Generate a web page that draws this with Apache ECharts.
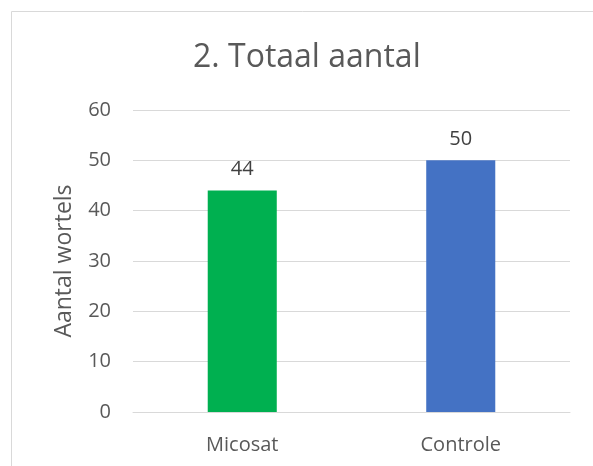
<!DOCTYPE html>
<html>
<head>
<meta charset="utf-8">
<script src="https://cdn.jsdelivr.net/npm/echarts@6/dist/echarts.min.js"></script>
<style>
  html, body { margin: 0; padding: 0; background: #fff; }
  #chart { width: 593px; height: 466px; }
</style>
</head>
<body>
<div id="chart"></div>
<script>
// data
var categories = ["Micosat", "Controle"];
var values = [44, 50];
var barColors = ["#00B050", "#4472C4"];

var textColor = "#595959";
var font = "'Open Sans', sans-serif";

var chart = echarts.init(document.getElementById("chart"));
chart.setOption({
  animation: false,
  textStyle: { fontFamily: font },
  graphic: [
    {
      type: "rect",
      shape: { x: 11.5, y: 11.5, width: 600, height: 480 },
      style: { fill: "none", stroke: "#d9d9d9", lineWidth: 1 },
      silent: true
    }
  ],
  title: {
    text: "2. Totaal aantal",
    left: 188,
    top: 37,
    textStyle: { fontSize: 32, fontWeight: "normal", color: textColor, fontFamily: font }
  },
  grid: { left: 133, right: 23, top: 110, bottom: 54 },
  xAxis: {
    type: "category",
    data: categories,
    axisLine: { lineStyle: { color: "#d9d9d9", width: 1 } },
    axisTick: { show: false },
    axisLabel: { color: textColor, fontSize: 20, margin: 23, fontFamily: font }
  },
  yAxis: {
    type: "value",
    min: 0,
    max: 60,
    interval: 10,
    name: "Aantal wortels",
    nameLocation: "middle",
    nameGap: 57,
    nameTextStyle: { color: textColor, fontSize: 23, fontFamily: font },
    axisLine: { show: false },
    axisTick: { show: false },
    axisLabel: { color: textColor, fontSize: 20, margin: 22, fontFamily: font },
    splitLine: { lineStyle: { color: "#d9d9d9", width: 1 } }
  },
  series: [
    {
      type: "bar",
      barWidth: "31.6%",
      data: values.map(function (v, i) {
        return { value: v, itemStyle: { color: barColors[i] } };
      }),
      label: {
        show: true,
        position: "top",
        distance: 11,
        color: "#404040",
        fontSize: 20,
        fontFamily: font
      }
    }
  ]
});
</script>
</body>
</html>
